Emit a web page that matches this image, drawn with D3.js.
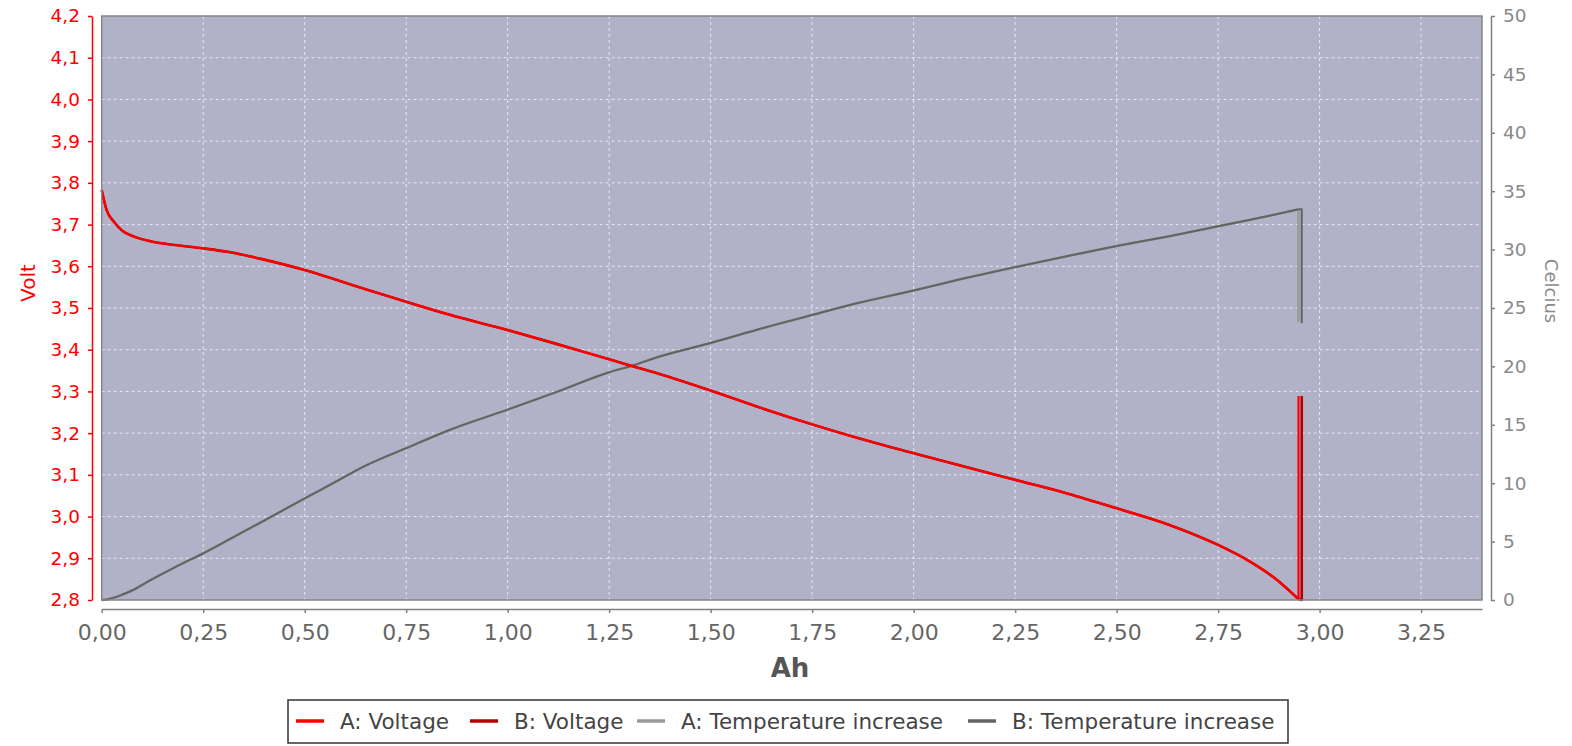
<!DOCTYPE html>
<html>
<head>
<meta charset="utf-8">
<script src="https://cdn.jsdelivr.net/npm/d3@7"></script>
<style>
  html, body { margin: 0; padding: 0; background: #ffffff; }
  svg { display: block; font-family: "DejaVu Sans", Verdana, sans-serif; }
</style>
</head>
<body>
<svg id="chart" width="1572" height="746"></svg>
<script>
// ---- data ----
const ah      = [0, 0.012, 0.03, 0.05, 0.08, 0.12, 0.18, 0.25, 0.32, 0.40, 0.50, 0.57, 0.65, 0.75, 0.86, 1.00, 1.12, 1.25, 1.31, 1.37, 1.50, 1.61, 1.75, 1.86, 2.00, 2.12, 2.25, 2.38, 2.50, 2.63, 2.75, 2.82, 2.89, 2.948];
const voltage = [3.783, 3.735, 3.707, 3.686, 3.671, 3.660, 3.651, 3.643, 3.633, 3.616, 3.591, 3.570, 3.545, 3.515, 3.483, 3.447, 3.414, 3.377, 3.360, 3.343, 3.302, 3.265, 3.221, 3.189, 3.152, 3.121, 3.088, 3.055, 3.020, 2.980, 2.932, 2.897, 2.852, 2.802];
const tempInc = [0, 0.05, 0.2, 0.45, 0.9, 1.7, 2.8, 4.0, 5.3, 6.8, 8.7, 10.0, 11.5, 13.0, 14.6, 16.3, 17.8, 19.5, 20.1, 20.8, 22.0, 23.1, 24.4, 25.4, 26.5, 27.5, 28.5, 29.45, 30.3, 31.15, 32.0, 32.5, 33.0, 33.45];

// end-of-test tails (recovery jump) per series
const tailAhA   = [2.948];
const tailVoltA = [3.289];
const tailTempA = [23.8];
const tailAhB   = [2.956, 2.956];
const tailVoltB = [2.800, 3.289];
const tailTempB = [33.45, 23.7];

const xTicks    = [0, 0.25, 0.5, 0.75, 1.0, 1.25, 1.5, 1.75, 2.0, 2.25, 2.5, 2.75, 3.0, 3.25];
const voltTicks = [2.8, 2.9, 3.0, 3.1, 3.2, 3.3, 3.4, 3.5, 3.6, 3.7, 3.8, 3.9, 4.0, 4.1, 4.2];
const tempTicks = [0, 5, 10, 15, 20, 25, 30, 35, 40, 45, 50];

const seriesNames  = ["A: Voltage", "B: Voltage", "A: Temperature increase", "B: Temperature increase"];
const seriesColors = ["#ff0000", "#b40000", "#9a9a9a", "#636363"];

// ---- layout ----
const L = 101.7, R = 1482, T = 16, B = 600;
const svg = d3.select("#chart");

const x  = d3.scaleLinear().domain([0, 3.4]).range([L, R]);
const yV = d3.scaleLinear().domain([2.8, 4.2]).range([B, T]);
const yT = d3.scaleLinear().domain([0, 50]).range([B, T]);

const comma = f => v => f(v).replace(".", ",");

// plot background
svg.append("rect").attr("x", L).attr("y", T).attr("width", R - L).attr("height", B - T)
  .attr("fill", "#b1b1c8");

// gridlines
const grid = svg.append("g").attr("stroke", "#e8e8f0").attr("stroke-width", 1)
  .attr("stroke-dasharray", "3,3");
grid.selectAll("line.v").data(xTicks.filter(d => d > 0)).join("line")
  .attr("x1", d => x(d)).attr("x2", d => x(d)).attr("y1", T).attr("y2", B);
grid.selectAll("line.h").data(voltTicks.filter(d => d > 2.8 && d < 4.2)).join("line")
  .attr("x1", L).attr("x2", R).attr("y1", d => yV(d)).attr("y2", d => yV(d));

// series data
const pts = (xs, ys) => xs.map((v, i) => [v, ys[i]]);
const mainV = pts(ah, voltage);
const mainT = pts(ah, tempInc);
const lastV = mainV[mainV.length - 1], lastT = mainT[mainT.length - 1];

const smoothV = d3.line().curve(d3.curveMonotoneX).x(d => x(d[0])).y(d => yV(d[1]));
const smoothT = d3.line().curve(d3.curveMonotoneX).x(d => x(d[0])).y(d => yT(d[1]));
const lineV = d3.line().x(d => x(d[0])).y(d => yV(d[1]));
const lineT = d3.line().x(d => x(d[0])).y(d => yT(d[1]));

const lines = svg.append("g").attr("fill", "none").attr("stroke-linejoin", "round");
function drawSeries(mainPts, last, tailXs, tailYs, smooth, straight, color, width) {
  const g = lines.append("g").attr("stroke", color).attr("stroke-width", width);
  g.append("path").attr("d", smooth(mainPts));
  g.append("path").attr("d", straight([last].concat(pts(tailXs, tailYs))));
}

drawSeries(mainT, lastT, tailAhA, tailTempA, smoothT, lineT, seriesColors[2], 2.6);
drawSeries(mainT, lastT, tailAhB, tailTempB, smoothT, lineT, seriesColors[3], 2);
drawSeries(mainV, lastV, tailAhB, tailVoltB, smoothV, lineV, seriesColors[1], 2.6);
drawSeries(mainV, lastV, tailAhA, tailVoltA, smoothV, lineV, seriesColors[0], 2.2);

// plot outline
svg.append("rect").attr("x", L).attr("y", T).attr("width", R - L).attr("height", B - T)
  .attr("fill", "none").attr("stroke", "#858585").attr("stroke-width", 1.5);

// left axis (Volt)
const gL = svg.append("g").attr("transform", "translate(92,0)")
  .call(d3.axisLeft(yV).tickValues(voltTicks).tickFormat(comma(d3.format(".1f")))
    .tickSize(4).tickSizeOuter(0).tickPadding(8));
gL.select(".domain").attr("stroke", "#ff0000").attr("stroke-width", 1.5);
gL.selectAll(".tick line").attr("stroke", "#ff0000").attr("stroke-width", 1.5);
gL.selectAll(".tick text").attr("fill", "#ff0000").attr("font-size", 18.5)
  .attr("font-family", "DejaVu Sans");

// right axis (Celcius)
const gR = svg.append("g").attr("transform", "translate(1491,0)")
  .call(d3.axisRight(yT).tickValues(tempTicks).tickSize(4).tickSizeOuter(0).tickPadding(8));
gR.select(".domain").attr("stroke", "#808080").attr("stroke-width", 1.5);
gR.selectAll(".tick line").attr("stroke", "#808080").attr("stroke-width", 1.5);
gR.selectAll(".tick text").attr("fill", "#8a8a8a").attr("font-size", 18.5)
  .attr("font-family", "DejaVu Sans");

// bottom axis (Ah)
const gB = svg.append("g").attr("transform", "translate(0,609)")
  .call(d3.axisBottom(x).tickValues(xTicks).tickFormat(comma(d3.format(".2f")))
    .tickSize(4).tickSizeOuter(0).tickPadding(11));
gB.select(".domain").attr("stroke", "#808080").attr("stroke-width", 1.5);
gB.selectAll(".tick line").attr("stroke", "#808080").attr("stroke-width", 1.5);
gB.selectAll(".tick text").attr("fill", "#666666").attr("font-size", 22)
  .attr("font-family", "DejaVu Sans");

// axis titles
svg.append("text").attr("x", 790).attr("y", 677).attr("text-anchor", "middle")
  .attr("font-size", 26).attr("font-weight", "bold").attr("fill", "#555555").text("Ah");
svg.append("text").attr("transform", "translate(35,283) rotate(-90)").attr("text-anchor", "middle")
  .attr("font-size", 20).attr("fill", "#ff0000").text("Volt");
svg.append("text").attr("transform", "translate(1545,291) rotate(90)").attr("text-anchor", "middle")
  .attr("font-size", 18).attr("fill", "#8a8a8a").text("Celcius");

// legend
const legX = [296, 470, 637, 968];
const leg = svg.append("g");
leg.append("rect").attr("x", 288).attr("y", 700).attr("width", 1000).attr("height", 43)
  .attr("fill", "#ffffff").attr("stroke", "#333333").attr("stroke-width", 1.5);
seriesNames.forEach((name, i) => {
  leg.append("line").attr("x1", legX[i]).attr("x2", legX[i] + 28).attr("y1", 721).attr("y2", 721)
    .attr("stroke", seriesColors[i]).attr("stroke-width", 3.5);
  leg.append("text").attr("x", legX[i] + 44).attr("y", 729).attr("font-size", 21.5)
    .attr("fill", "#444444").text(name);
});
</script>
</body>
</html>
